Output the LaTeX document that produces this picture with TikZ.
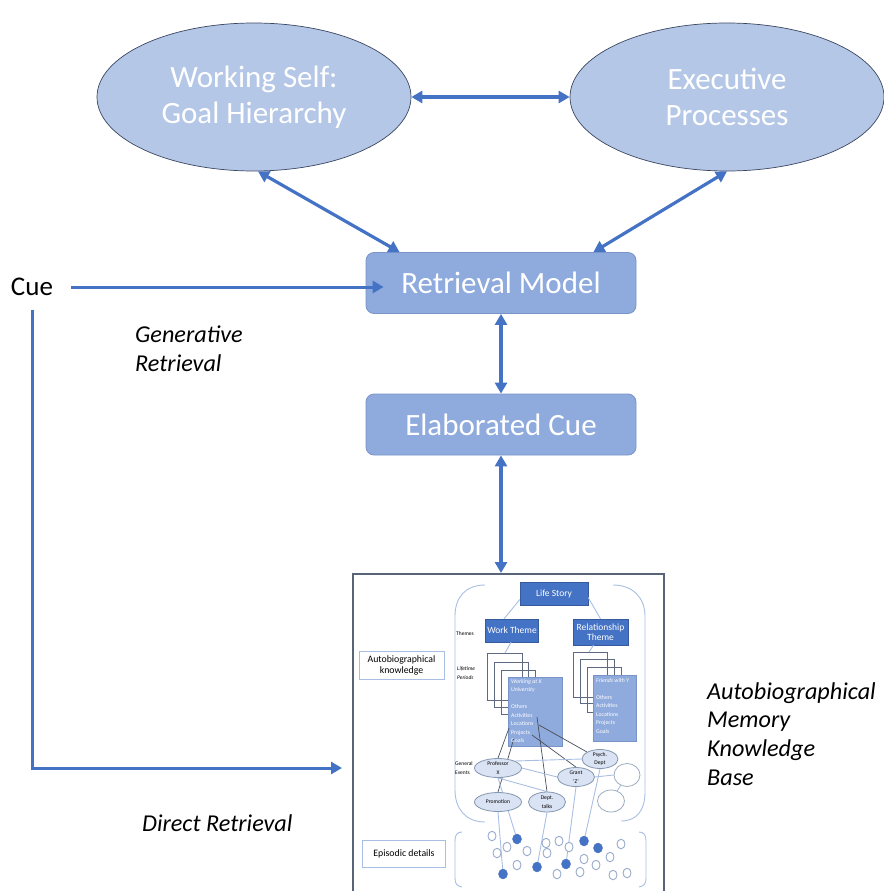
\documentclass[tikz,border=0pt]{standalone}
\usepackage{fontspec}
\setmainfont{Carlito}
\usetikzlibrary{shapes.geometric,arrows.meta,calc}

\definecolor{arrowblue}{HTML}{4472C4}
\definecolor{ellfill}{HTML}{B4C7E7}
\definecolor{ellborder}{HTML}{3B4660}
\definecolor{boxfill}{HTML}{8FAADC}
\definecolor{boxborder}{HTML}{7A94C8}
\definecolor{framegray}{HTML}{5A6478}
\definecolor{lightline}{HTML}{A9BEE3}
\definecolor{stackgray}{HTML}{5E6A80}
\definecolor{eventfill}{HTML}{DAE3F3}
\definecolor{eventborder}{HTML}{8497B0}
\definecolor{darkline}{HTML}{4A4F58}

\pgfdeclarelayer{back}
\pgfdeclarelayer{lines}
\pgfsetlayers{back,lines,main}

\tikzset{
  goalell/.style={ellipse, draw=ellborder, line width=0.7pt, fill=ellfill,
    text=white, align=center, inner sep=0pt,
    font=\fontsize{31}{36}\selectfont,
    minimum width=314pt, minimum height=148pt},
  procbox/.style={rectangle, rounded corners=8pt, draw=boxborder, line width=0.8pt,
    fill=boxfill, text=white, inner sep=0pt,
    font=\fontsize{31}{34}\selectfont,
    minimum width=270pt, minimum height=61pt},
  link/.style={draw=arrowblue, line width=3.2pt,
    arrows={Triangle[length=11pt,width=12pt]-Triangle[length=11pt,width=12pt]}},
  feed/.style={draw=arrowblue, line width=3pt, line join=miter,
    arrows={-Triangle[length=11pt,width=12pt]}},
  plainlabel/.style={font=\fontsize{27}{30}\selectfont, inner sep=0pt},
  itlabel/.style={font=\fontsize{24.2}{28.7}\selectfont\itshape, align=left,
    inner sep=0pt},
  % knowledge-base inset
  kbframe/.style={draw=framegray, line width=1.6pt},
  bracket/.style={draw=lightline, line width=0.9pt},
  darkbox/.style={rectangle, fill=arrowblue, draw=arrowblue!80!black,
    line width=0.4pt, text=white, inner sep=0pt, align=center,
    font=\fontsize{9.5}{10.5}\selectfont},
  labelbox/.style={rectangle, draw=lightline, line width=1pt, fill=white,
    inner sep=0pt, align=center, font=\fontsize{9.8}{11}\selectfont},
  stackrect/.style={draw=stackgray, line width=0.8pt},
  periodbox/.style={fill=boxfill, draw=boxborder, line width=0.5pt},
  itemtext/.style={text=white, align=left, inner sep=0pt, anchor=north west,
    font=\fontsize{5.8}{8.5}\selectfont},
  tinylabel/.style={inner sep=0pt, anchor=west, align=left,
    font=\fontsize{5.5}{9}\selectfont},
  event/.style={ellipse, draw=eventborder, line width=0.8pt, fill=eventfill,
    inner sep=0pt, align=center, font=\fontsize{5.6}{8.5}\selectfont},
  blankevent/.style={ellipse, draw=eventborder!80, line width=0.8pt, fill=white,
    inner sep=0pt},
  thinblue/.style={draw=lightline, line width=0.9pt},
  thindark/.style={draw=darkline, line width=0.7pt},
  hollowdot/.style={ellipse, draw=lightline!90!black, line width=0.9pt, fill=white,
    inner sep=0pt, minimum width=8pt, minimum height=9.5pt},
  fulldot/.style={ellipse, fill=arrowblue, draw=arrowblue, inner sep=0pt,
    minimum width=9pt, minimum height=10pt},
}

\begin{document}
\begin{tikzpicture}[x=1pt,y=-1pt]
\useasboundingbox (0,0) rectangle (883,891);

% ---- upper processes ----
\node[goalell] (ws) at (254,97) {Working Self:\\Goal Hierarchy};
\node[goalell] (ep) at (727,97) {Executive\\Processes};
\node[procbox] (rm) at (501,283) {Retrieval Model};
\node[procbox] (ec) at (501,424.5) {Elaborated Cue};

\draw[link] (ws.east) -- (ep.west);
\draw[link] ([xshift=4pt]ws.south) -- ([xshift=34pt]rm.north west);
\draw[link] (ep.south) -- ([xshift=-43pt]rm.north east);
\draw[link] (rm.south) -- (ec.north);
\coordinate (kbtop) at (501,573);
\draw[link] (ec.south) -- (kbtop);

% ---- cue and the two retrieval routes ----
\node[plainlabel] (cue) at (32,287) {Cue};
\draw[feed] ([xshift=18pt]cue.east) -- ([xshift=18pt]cue.east -| rm.west);
\coordinate (dtop) at (32,310);
\coordinate (dturn) at (32,768);
\coordinate (dend) at (342,768);
\draw[feed] (dtop) -- (dturn) -- (dend);

\node[itlabel, anchor=north west] (genret) at (135,326) {Generative\\Retrieval};
\node[itlabel, anchor=west] (dirret) at (142,823) {Direct Retrieval};
\node[itlabel, anchor=north west] (amkb) at (707,682)
  {Autobiographical\\Memory\\Knowledge\\Base};

% ---- knowledge-base inset ----
\draw[kbframe] (353,893) -- (353,574) -- (664,574) -- (664,893);

% outer bracket around the knowledge hierarchy
\draw[bracket] (485,585) .. controls (465,585) and (455,598) .. (455,616)
  -- (455,790) .. controls (455,808) and (465,822) .. (485,822);
\draw[bracket] (613,585) .. controls (633,585) and (645,598) .. (645,616)
  -- (645,792) .. controls (645,810) and (637,821) .. (621,821);
% bracket around the episodic details
\draw[bracket] (462,832) .. controls (457,832) and (455,835) .. (455,841)
  -- (455,878) .. controls (455,884) and (457,886) .. (462,887);
\draw[bracket] (639,832) .. controls (644,832) and (646,835) .. (646,841)
  -- (646,878) .. controls (646,884) and (644,886) .. (639,887);

% level names
\node[tinylabel] (lthemes) at (456,634) {Themes};
\node[tinylabel, font=\fontsize{5.5}{9.5}\selectfont\itshape] (lperiods) at (457,673)
  {Lifetime\\Periods};
\node[tinylabel] (levents) at (455,768) {General\\Events};

\node[labelbox, minimum width=85pt, minimum height=28pt] (abk) at (401.5,665.5)
  {Autobiographical\\knowledge};
\node[labelbox, minimum width=83pt, minimum height=27pt] (epd) at (404,854)
  {Episodic details};

% life story and themes
\node[darkbox, minimum width=68pt, minimum height=23pt] (life) at (554,593.5) {Life Story};
\node[darkbox, minimum width=53pt, minimum height=23pt] (work) at (512,630.5) {Work Theme};
\node[darkbox, minimum width=55pt, minimum height=26pt] (rel) at (600.5,632)
  {Relationship\\Theme};
\draw[thinblue] ([yshift=-6pt]life.west) -- ([xshift=-8pt]work.north);
\draw[thinblue] ([yshift=-4pt]life.east) -- (rel.north);

% lifetime periods: stacked cards
\begin{pgfonlayer}{back}
\draw[stackrect] (487,653) rectangle (522,700);
\draw[stackrect] (494,662) rectangle (528,707);
\draw[stackrect] (501,670) rectangle (535,714);
\draw[periodbox] (508,677) rectangle (562,746);
\draw[stackrect] (573,652) rectangle (607,697);
\draw[stackrect] (580,659) rectangle (614,703);
\draw[stackrect] (587,667) rectangle (621,712);
\draw[periodbox] (593,675) rectangle (636,741);
\end{pgfonlayer}
\coordinate (workcards) at (505,653);
\coordinate (relcards) at (589,652);
\draw[thinblue] ([xshift=-1pt]work.south) -- (workcards);
\draw[thinblue] ([xshift=-7pt]rel.south) -- (relcards);

\node[itemtext] (workitems) at (511,679)
  {\itshape Working at X\\\itshape University\\[8.5pt]Others\\Activities\\Locations\\Projects\\Goals};
\node[itemtext] (relitems) at (596,678)
  {\itshape Friends with Y\\[8.5pt]Others\\Activities\\Locations\\Projects\\Goals};

% general events
\node[event, minimum width=47pt, minimum height=19pt] (prof) at (498,768) {Professor\\X};
\node[event, minimum width=36pt, minimum height=19pt] (psych) at (600,759) {Psych.\\Dept};
\node[event, minimum width=37pt, minimum height=19pt] (grant) at (576,777) {Grant\\`Z'};
\node[event, minimum width=47pt, minimum height=19pt] (promo) at (498,802) {Promotion};
\node[event, minimum width=37pt, minimum height=20pt] (talks) at (547,802) {Dept.\\talks};
\node[blankevent, minimum width=26pt, minimum height=23pt] (ev1) at (627,775) {};
\node[blankevent, minimum width=27pt, minimum height=22pt] (ev2) at (611,801) {};

% episodic details
\node[fulldot] (f1) at (503,874) {};
\node[fulldot] (f2) at (517,839) {};
\node[fulldot] (f3) at (537,867) {};
\node[fulldot] (f4) at (566,864) {};
\node[fulldot] (f5) at (584,841) {};
\node[fulldot] (f6) at (598,848) {};
\foreach \px/\py [count=\i] in {492/836, 507/847, 497/853, 527/851, 517/865,
    546/843, 547/853, 559/841, 569/847, 557/874, 584/859, 580/872,
    596/865, 610/857, 621/844, 613/875, 627/873}
  \node[hollowdot] (h\i) at (\px,\py) {};

% links from period items to general events
\coordinate (iothers) at (509,728);
\coordinate (igoals) at (514,738);
\coordinate (iact) at (537,717);
\coordinate (iloc) at (539,725);
\coordinate (iproj) at (532,735);
\begin{pgfonlayer}{lines}
\draw[thindark] (iothers) -- (prof.north);
\draw[thindark] (igoals) -- (promo.north);
\draw[thindark] (iact) -- (talks.north);
\draw[thindark] (iloc) -- (psych.north west);
\draw[thindark] (iproj) -- (grant.north);
% links among general events
\draw[thinblue] (prof.north east) -- (psych.west);
\draw[thinblue] (prof.east) -- (grant.west);
\draw[thinblue] (prof.south) -- (talks.north);
\draw[thinblue] (grant.east) -- (ev1.west);
\draw[thinblue] (ev1) -- (ev2);
% links down to episodic details
\draw[thinblue] (promo.south) -- (f1);
\draw[thinblue] (prof.south) -- (f2);
\draw[thinblue] (talks.south) -- (f3);
\draw[thinblue] (grant.south) -- (f4);
\draw[thinblue] (psych.south) -- (f5);
\end{pgfonlayer}
\end{tikzpicture}
\end{document}
